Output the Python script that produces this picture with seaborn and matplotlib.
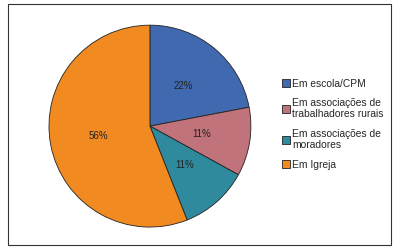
import matplotlib
matplotlib.use("Agg")
import matplotlib.pyplot as plt
import matplotlib.patches as mpatches
import seaborn as sns

# Data
categories = ["Em escola/CPM", "Em associações de\ntrabalhadores rurais",
              "Em associações de\nmoradores", "Em Igreja"]
values = [22, 11, 11, 56]
colors = ["#4169B0", "#C0737A", "#2E8A9C", "#F28A22"]

sns.set_theme(style="white")
plt.rcParams['font.family'] = ['Liberation Sans', 'DejaVu Sans']

fig = plt.figure(figsize=(3.93, 2.49), dpi=100)
fig.patch.set_facecolor("white")

# outer frame
fig.patches.append(mpatches.Rectangle((8 / 393, 4 / 249), 383 / 393, 241 / 249,
                                      transform=fig.transFigure, fill=False,
                                      edgecolor="#333333", linewidth=0.8))

ax = fig.add_axes([0.122, 0.084, 0.519, 0.819])
wedges, texts, autotexts = ax.pie(values, colors=colors, startangle=90, counterclock=False,
                                  autopct=lambda p: f"{p:.0f}%", pctdistance=0.52,
                                  wedgeprops=dict(edgecolor="#222222", linewidth=0.6),
                                  textprops=dict(fontsize=7, color="#222222"))
ax.set_xlim(-1.01, 1.01)
ax.set_ylim(-1.01, 1.01)
ax.set_aspect("equal")

handles = [mpatches.Patch(facecolor=c, edgecolor="#222222", linewidth=0.6) for c in colors]
fig.legend(handles, categories, loc="upper left", bbox_to_anchor=(0.705, 0.705),
           frameon=False, fontsize=7.4, handlelength=0.75, handleheight=0.75,
           handletextpad=0.25, labelspacing=0.9, borderpad=0)

fig.savefig("out.png", dpi=100)
